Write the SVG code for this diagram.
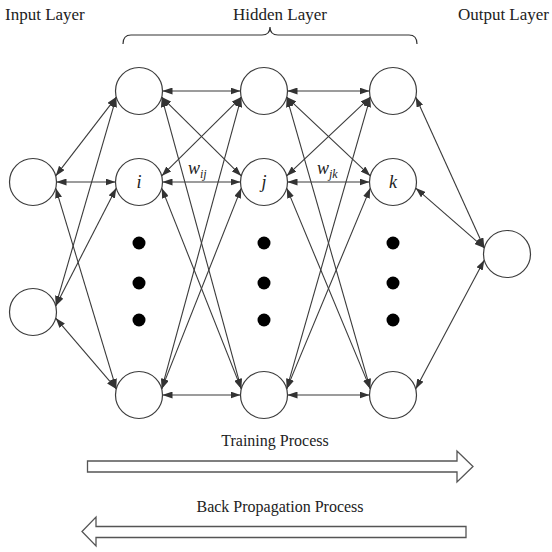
<svg xmlns="http://www.w3.org/2000/svg" width="552" height="552" viewBox="0 0 552 552">
<style>
.node{fill:#fff;stroke:#3c3c3c;stroke-width:1.2}
.dot{fill:#000}
.conn line{stroke:#3a3a3a;stroke-width:1.1;marker-start:url(#ah);marker-end:url(#ah)}
.t{font-family:"Liberation Serif","Times New Roman",serif;fill:#222}
.lab{font-family:"Liberation Serif","Times New Roman",serif;font-style:italic;fill:#222}
.big{fill:#fff;stroke:#555;stroke-width:1.3}
</style>
<defs>
<marker id="ah" markerUnits="userSpaceOnUse" markerWidth="10" markerHeight="7" refX="10" refY="3.5" orient="auto-start-reverse">
<path d="M0,0 L10,3.5 L0,7 z" fill="#333"/>
</marker>
</defs>
<rect width="552" height="552" fill="#fff"/>
<g id="titles">
<text class="t" x="5" y="20" font-size="17">Input Layer</text>
<text class="t" x="280" y="20" font-size="17" text-anchor="middle">Hidden Layer</text>
<text class="t" x="549" y="20" font-size="17" text-anchor="end">Output Layer</text>
<path d="M123,44 Q123,35 131,35 L262,35 Q270,35 270,27 Q270,35 278,35 L409,35 Q417,35 417,44" fill="none" stroke="#333" stroke-width="1.2"/>
</g>
<g id="connectors" class="conn">
<line x1="55.7" y1="175.9" x2="116.3" y2="97.1"/>
<line x1="56.5" y1="182" x2="115.5" y2="182"/>
<line x1="55.7" y1="188.1" x2="116.3" y2="388.9"/>
<line x1="55.7" y1="305.9" x2="116.3" y2="97.1"/>
<line x1="55.7" y1="305.9" x2="116.3" y2="188.1"/>
<line x1="55.7" y1="318.1" x2="116.3" y2="388.9"/>
<line x1="162.5" y1="91" x2="240.5" y2="91"/>
<line x1="161.7" y1="97.1" x2="241.3" y2="175.9"/>
<line x1="161.7" y1="97.1" x2="241.3" y2="388.9"/>
<line x1="161.7" y1="175.9" x2="241.3" y2="97.1"/>
<line x1="162.5" y1="182" x2="240.5" y2="182"/>
<line x1="161.7" y1="188.1" x2="241.3" y2="388.9"/>
<line x1="161.7" y1="388.9" x2="241.3" y2="97.1"/>
<line x1="161.7" y1="388.9" x2="241.3" y2="188.1"/>
<line x1="162.5" y1="395" x2="240.5" y2="395"/>
<line x1="287.5" y1="91" x2="369.5" y2="91"/>
<line x1="286.7" y1="97.1" x2="370.3" y2="175.9"/>
<line x1="286.7" y1="97.1" x2="370.3" y2="388.9"/>
<line x1="286.7" y1="175.9" x2="370.3" y2="97.1"/>
<line x1="287.5" y1="182" x2="369.5" y2="182"/>
<line x1="286.7" y1="188.1" x2="370.3" y2="388.9"/>
<line x1="286.7" y1="388.9" x2="370.3" y2="97.1"/>
<line x1="286.7" y1="388.9" x2="370.3" y2="188.1"/>
<line x1="287.5" y1="395" x2="369.5" y2="395"/>
<line x1="415.7" y1="97.1" x2="484.3" y2="247.9"/>
<line x1="415.7" y1="188.1" x2="484.3" y2="247.9"/>
<line x1="415.7" y1="388.9" x2="484.3" y2="260.1"/>
</g>
<g id="weights">
<text class="lab" x="188" y="174" font-size="18">w<tspan font-size="12" dy="4">ij</tspan></text>
<text class="lab" x="317" y="174" font-size="18">w<tspan font-size="12" dy="4">jk</tspan></text>
</g>
<g id="in1"><circle class="node" cx="33" cy="182" r="23.5"/></g>
<g id="in2"><circle class="node" cx="33" cy="312" r="23.5"/></g>
<g id="h1top"><circle class="node" cx="139" cy="91" r="23.5"/></g>
<g id="h1i"><circle class="node" cx="139" cy="182" r="23.5"/><text class="lab" x="139" y="188" font-size="18" text-anchor="middle">i</text></g>
<g id="h1bot"><circle class="node" cx="139" cy="395" r="23.5"/></g>
<g id="h2top"><circle class="node" cx="264" cy="91" r="23.5"/></g>
<g id="h2j"><circle class="node" cx="264" cy="182" r="23.5"/><text class="lab" x="264" y="188" font-size="18" text-anchor="middle">j</text></g>
<g id="h2bot"><circle class="node" cx="264" cy="395" r="23.5"/></g>
<g id="h3top"><circle class="node" cx="393" cy="91" r="23.5"/></g>
<g id="h3k"><circle class="node" cx="393" cy="182" r="23.5"/><text class="lab" x="393" y="188" font-size="18" text-anchor="middle">k</text></g>
<g id="h3bot"><circle class="node" cx="393" cy="395" r="23.5"/></g>
<g id="out"><circle class="node" cx="507" cy="254" r="23.5"/></g>
<g id="dots">
<circle class="dot" cx="139" cy="243" r="6.5"/><circle class="dot" cx="139" cy="283" r="6.5"/><circle class="dot" cx="139" cy="320" r="6.5"/>
<circle class="dot" cx="264" cy="243" r="6.5"/><circle class="dot" cx="264" cy="283" r="6.5"/><circle class="dot" cx="264" cy="320" r="6.5"/>
<circle class="dot" cx="393" cy="243" r="6.5"/><circle class="dot" cx="393" cy="283" r="6.5"/><circle class="dot" cx="393" cy="320" r="6.5"/>
</g>
<g id="training">
<text class="t" x="275" y="446" font-size="16" text-anchor="middle">Training Process</text>
<polygon class="big" points="87.5,461 457,461 457,451 473,466.5 457,482 457,472 87.5,472"/>
</g>
<g id="backprop">
<text class="t" x="280" y="512" font-size="16" text-anchor="middle">Back Propagation Process</text>
<polygon class="big" points="466,526.5 96,526.5 96,517 82,531.5 96,546 96,537.5 466,537.5"/>
</g>
</svg>
